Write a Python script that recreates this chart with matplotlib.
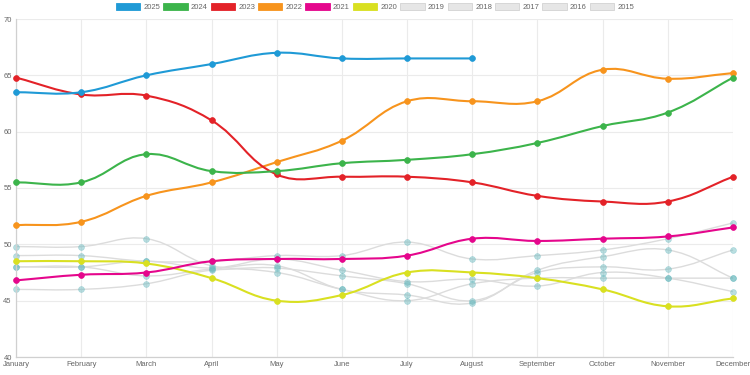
import numpy as np
import matplotlib
matplotlib.use("Agg")
import matplotlib.pyplot as plt
from matplotlib.path import Path
from matplotlib.patches import PathPatch, Rectangle

months = ["January", "February", "March", "April", "May", "June", "July",
          "August", "September", "October", "November", "December"]

y2025 = [63.5, 63.5, 65.0, 66.0, 67.0, 66.5, 66.5, 66.5]
y2024 = [55.5, 55.5, 58.0, 56.5, 56.5, 57.2, 57.5, 58.0, 59.0, 60.5, 61.7, 64.8]
y2023 = [64.8, 63.3, 63.2, 61.0, 56.2, 56.0, 56.0, 55.5, 54.3, 53.8, 53.8, 56.0]
y2022 = [51.7, 52.0, 54.3, 55.5, 57.3, 59.2, 62.7, 62.7, 62.7, 65.5, 64.7, 65.2]
y2021 = [46.8, 47.3, 47.5, 48.5, 48.7, 48.7, 49.0, 50.5, 50.3, 50.5, 50.7, 51.5]
y2020 = [48.5, 48.5, 48.3, 47.0, 45.0, 45.5, 47.5, 47.5, 47.0, 46.0, 44.5, 45.2]
y2019 = [49.8, 49.8, 50.5, 48.1, 47.9, 47.2, 46.5, 45.0, 47.5, 48.0, 47.8, 49.5]
y2018 = [49.0, 49.0, 48.5, 48.5, 49.0, 49.0, 50.2, 48.7, 49.0, 49.5, 50.5, 51.9]
y2017 = [48.0, 48.0, 48.5, 47.9, 48.7, 47.7, 46.7, 46.9, 46.3, 47.5, 47.0, 45.8]
y2016 = [48.0, 48.0, 47.2, 47.8, 48.1, 46.0, 45.5, 44.8, 47.7, 48.9, 49.5, 47.0]
y2015 = [46.0, 46.0, 46.5, 47.7, 47.5, 46.0, 45.0, 46.5, 47.0, 47.0, 47.0, 47.0]

labels = ["2025", "2024", "2023", "2022", "2021", "2020",
          "2019", "2018", "2017", "2016", "2015"]
series = [y2025, y2024, y2023, y2022, y2021, y2020,
          y2019, y2018, y2017, y2016, y2015]
colors = ["#1f9ad6", "#3cb44b", "#e32228", "#f7941d", "#e5068c", "#d9e021",
          "#dcdcdc", "#dcdcdc", "#dcdcdc", "#dcdcdc", "#dcdcdc"]

GREY_MARK = (0.40, 0.72, 0.74, 0.45)

SX, SY = 65.2, 11.3  # approx pixel scale for spline distance computation


def spline_path(xs, ys, t=0.4):
    px = np.asarray(xs, float) * SX
    py = np.asarray(ys, float) * SY
    n = len(px)
    cpp = np.zeros((n, 2))
    cpn = np.zeros((n, 2))
    for i in range(n):
        pi = max(i - 1, 0)
        ni = min(i + 1, n - 1)
        d01 = np.hypot(px[i] - px[pi], py[i] - py[pi])
        d12 = np.hypot(px[ni] - px[i], py[ni] - py[i])
        tot = d01 + d12
        s01 = d01 / tot if tot else 0
        s12 = d12 / tot if tot else 0
        fa, fb = t * s01, t * s12
        dx, dy = px[ni] - px[pi], py[ni] - py[pi]
        cpp[i] = (px[i] - fa * dx, py[i] - fa * dy)
        cpn[i] = (px[i] + fb * dx, py[i] + fb * dy)
    verts = [(px[0], py[0])]
    codes = [Path.MOVETO]
    for i in range(n - 1):
        verts += [tuple(cpn[i]), tuple(cpp[i + 1]), (px[i + 1], py[i + 1])]
        codes += [Path.CURVE4] * 3
    verts = np.array(verts)
    verts[:, 0] /= SX
    verts[:, 1] /= SY
    verts[:, 1] = np.clip(verts[:, 1], 40, 70)
    return Path(verts, codes)


fig = plt.figure(figsize=(7.5, 3.75), dpi=100)
ax = fig.add_axes([16 / 750, 1 - 357 / 375, (733 - 16) / 750, (357 - 19) / 375])

ax.set_xlim(0, 11)
ax.set_ylim(40, 70)
ax.set_xticks(range(12))
ax.set_xticklabels(months)
ax.set_yticks(range(40, 71, 5))
for s in ["top", "right"]:
    ax.spines[s].set_visible(False)
for s in ["left", "bottom"]:
    ax.spines[s].set_color("#d0d0d0")
    ax.spines[s].set_linewidth(0.9)
ax.grid(True, color="#ebebeb", linewidth=0.8)
ax.set_axisbelow(True)
ax.tick_params(axis="both", length=0, labelsize=5.5, labelcolor="#666666",
               pad=3)
for lab in ax.get_xticklabels() + ax.get_yticklabels():
    lab.set_fontfamily("Liberation Sans")

n_series = len(series)
for k in range(n_series - 1, -1, -1):
    ys = series[k]
    xs = np.arange(len(ys))
    grey = k >= 6
    z = 2 if grey else 10 + (n_series - k)
    path = spline_path(xs, ys)
    ax.add_patch(PathPatch(path, facecolor="none", edgecolor=colors[k],
                           linewidth=1.0 if grey else 1.5, zorder=z,
                           clip_on=False))
    mc = GREY_MARK if grey else colors[k]
    ax.plot(xs, ys, linestyle="none", marker="o", markersize=4.2,
            markerfacecolor=mc, markeredgecolor=mc, markeredgewidth=0.5,
            zorder=z + 0.5, clip_on=False)

handles = []
for k in range(n_series):
    grey = k >= 6
    fc = "#e6e6e6" if grey else colors[k]
    ec = "#d2d2d2" if grey else colors[k]
    handles.append(Rectangle((0, 0), 1, 1, facecolor=fc, edgecolor=ec,
                             linewidth=0.6))
leg = fig.legend(handles, labels, loc="upper center", ncol=11,
                 bbox_to_anchor=(0.5, 1.005), frameon=False,
                 prop={"family": "Liberation Sans", "size": 5.5},
                 handlelength=3.2, handleheight=1.0, handletextpad=0.4,
                 columnspacing=0.4, borderaxespad=0.2)
for txt in leg.get_texts():
    txt.set_color("#666666")

fig.savefig("out.png", dpi=100)
